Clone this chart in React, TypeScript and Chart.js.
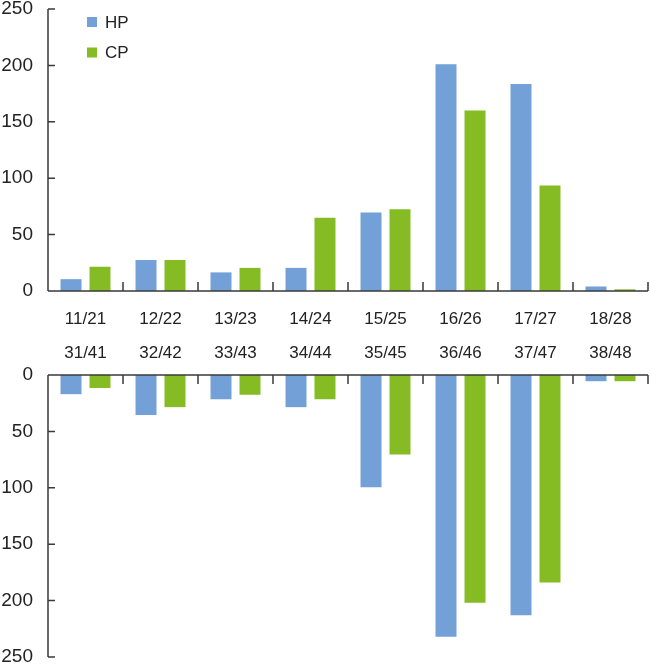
import { useEffect, useRef } from 'react';
import { Chart, registerables } from 'chart.js';

Chart.register(...registerables);

const upperCategories = ['11/21', '12/22', '13/23', '14/24', '15/25', '16/26', '17/27', '18/28'];
const lowerCategories = ['31/41', '32/42', '33/43', '34/44', '35/45', '36/46', '37/47', '38/48'];
const seriesNames = ['HP', 'CP'];
const upperHP = [10.5, 27.5, 16.5, 20.5, 69.5, 201, 183.5, 4];
const upperCP = [21.5, 27.5, 20.5, 65, 72.5, 160, 93.5, 1.5];
const lowerHP = [17, 35.5, 21.5, 28.5, 99.5, 232, 213, 5.5];
const lowerCP = [11.5, 28.5, 17.5, 21.5, 70.5, 202, 184, 5.5];
const yTickValues = [0, 50, 100, 150, 200, 250];
const seriesColors = ['#72a0d7', '#85bc23'];

const FONT = "'Liberation Sans', Arial, sans-serif";
const AXIS_COLOR = '#3a3a3a';
const TEXT_COLOR = '#222222';

const inwardAxes = {
  id: 'inwardAxes',
  afterDatasetsDraw(chart: any, _args: any, opts: any) {
    const { ctx, chartArea, scales } = chart;
    const x = scales.x;
    const y = scales.y;
    const dir = opts.down ? 1 : -1;
    ctx.save();
    ctx.strokeStyle = AXIS_COLOR;
    ctx.lineWidth = 1.5;
    ctx.beginPath();
    const left = chartArea.left;
    const y0 = y.getPixelForValue(0);
    const yMax = y.getPixelForValue(yTickValues[yTickValues.length - 1]);
    ctx.moveTo(left, y0);
    ctx.lineTo(left, yMax);
    yTickValues.forEach((v) => {
      const py = y.getPixelForValue(v);
      ctx.moveTo(left, py);
      ctx.lineTo(left + 7, py);
    });
    ctx.moveTo(left, y0);
    ctx.lineTo(chartArea.right, y0);
    const n = upperCategories.length;
    const half = (x.getPixelForValue(1) - x.getPixelForValue(0)) / 2;
    for (let i = 0; i < n; i++) {
      const px = x.getPixelForValue(i) + half;
      ctx.moveTo(px, y0);
      ctx.lineTo(px, y0 + dir * 9);
    }
    ctx.stroke();

    if (opts.legend) {
      chart.data.datasets.forEach((ds: any, i: number) => {
        const cy = 22 + i * 30.5;
        ctx.fillStyle = ds.backgroundColor;
        ctx.fillRect(87, cy - 5, 10, 10);
        ctx.fillStyle = TEXT_COLOR;
        ctx.font = `17px ${FONT}`;
        ctx.textBaseline = 'middle';
        ctx.textAlign = 'left';
        ctx.fillText(ds.label, 105, cy + 1);
      });
    }
    ctx.restore();
  },
};

function makeDatasets(hp: number[], cp: number[]) {
  return [hp, cp].map((data, i) => ({
    label: seriesNames[i],
    data,
    backgroundColor: seriesColors[i],
    borderWidth: 0,
    categoryPercentage: 0.773,
    barPercentage: 0.724,
  }));
}

function yScale(reverse: boolean) {
  return {
    min: 0,
    max: 250,
    reverse,
    ticks: {
      stepSize: 50,
      color: TEXT_COLOR,
      padding: 15,
      font: { family: FONT, size: 19, lineHeight: 1 },
    },
    grid: { display: false, drawTicks: false },
    border: { display: false },
    afterFit: (s: any) => {
      s.width = 48;
      s.paddingTop = 0;
      s.paddingBottom = 0;
    },
  };
}

export default function App() {
  const topRef = useRef<HTMLCanvasElement>(null);
  const botRef = useRef<HTMLCanvasElement>(null);

  useEffect(() => {
    Chart.defaults.font.family = FONT;
    const top = new Chart(topRef.current as HTMLCanvasElement, {
      type: 'bar',
      data: {
        labels: upperCategories.map((c, i) => [c, lowerCategories[i]]),
        datasets: makeDatasets(upperHP, upperCP) as any,
      },
      options: {
        animation: false,
        responsive: false,
        layout: { padding: { left: 0, right: 2, top: 9, bottom: 0 } },
        plugins: {
          legend: { display: false },
          tooltip: { enabled: false },
          inwardAxes: { down: false, legend: true },
        } as any,
        scales: {
          x: {
            offset: true,
            grid: { display: false, drawTicks: false },
            border: { display: false },
            ticks: {
              color: TEXT_COLOR,
              padding: 11,
              maxRotation: 0,
              autoSkip: false,
              font: { family: FONT, size: 17, lineHeight: 2 },
            },
            afterFit: (s: any) => {
              s.height = 74;
              s.paddingLeft = 0;
              s.paddingRight = 0;
            },
          },
          y: yScale(false) as any,
        },
      },
      plugins: [inwardAxes],
    });
    const bot = new Chart(botRef.current as HTMLCanvasElement, {
      type: 'bar',
      data: {
        labels: lowerCategories,
        datasets: makeDatasets(lowerHP, lowerCP) as any,
      },
      options: {
        animation: false,
        responsive: false,
        layout: { padding: { left: 0, right: 2, top: 10, bottom: 18 } },
        plugins: {
          legend: { display: false },
          tooltip: { enabled: false },
          inwardAxes: { down: true, legend: false },
        } as any,
        scales: {
          x: {
            position: 'top',
            offset: true,
            grid: { display: false, drawTicks: false },
            border: { display: false },
            ticks: { display: false },
            afterFit: (s: any) => {
              s.height = 0;
              s.paddingLeft = 0;
              s.paddingRight = 0;
            },
          },
          y: yScale(true) as any,
        },
      },
      plugins: [inwardAxes],
    });
    return () => {
      top.destroy();
      bot.destroy();
    };
  }, []);

  return (
    <div
      style={{
        position: 'fixed',
        left: 0,
        top: 0,
        width: 650,
        height: 665,
        overflow: 'hidden',
        background: '#ffffff',
      }}
    >
      <canvas ref={topRef} width={650} height={365} style={{ position: 'absolute', left: 0, top: 0 }} />
      <canvas ref={botRef} width={650} height={310} style={{ position: 'absolute', left: 0, top: 365 }} />
    </div>
  );
}
